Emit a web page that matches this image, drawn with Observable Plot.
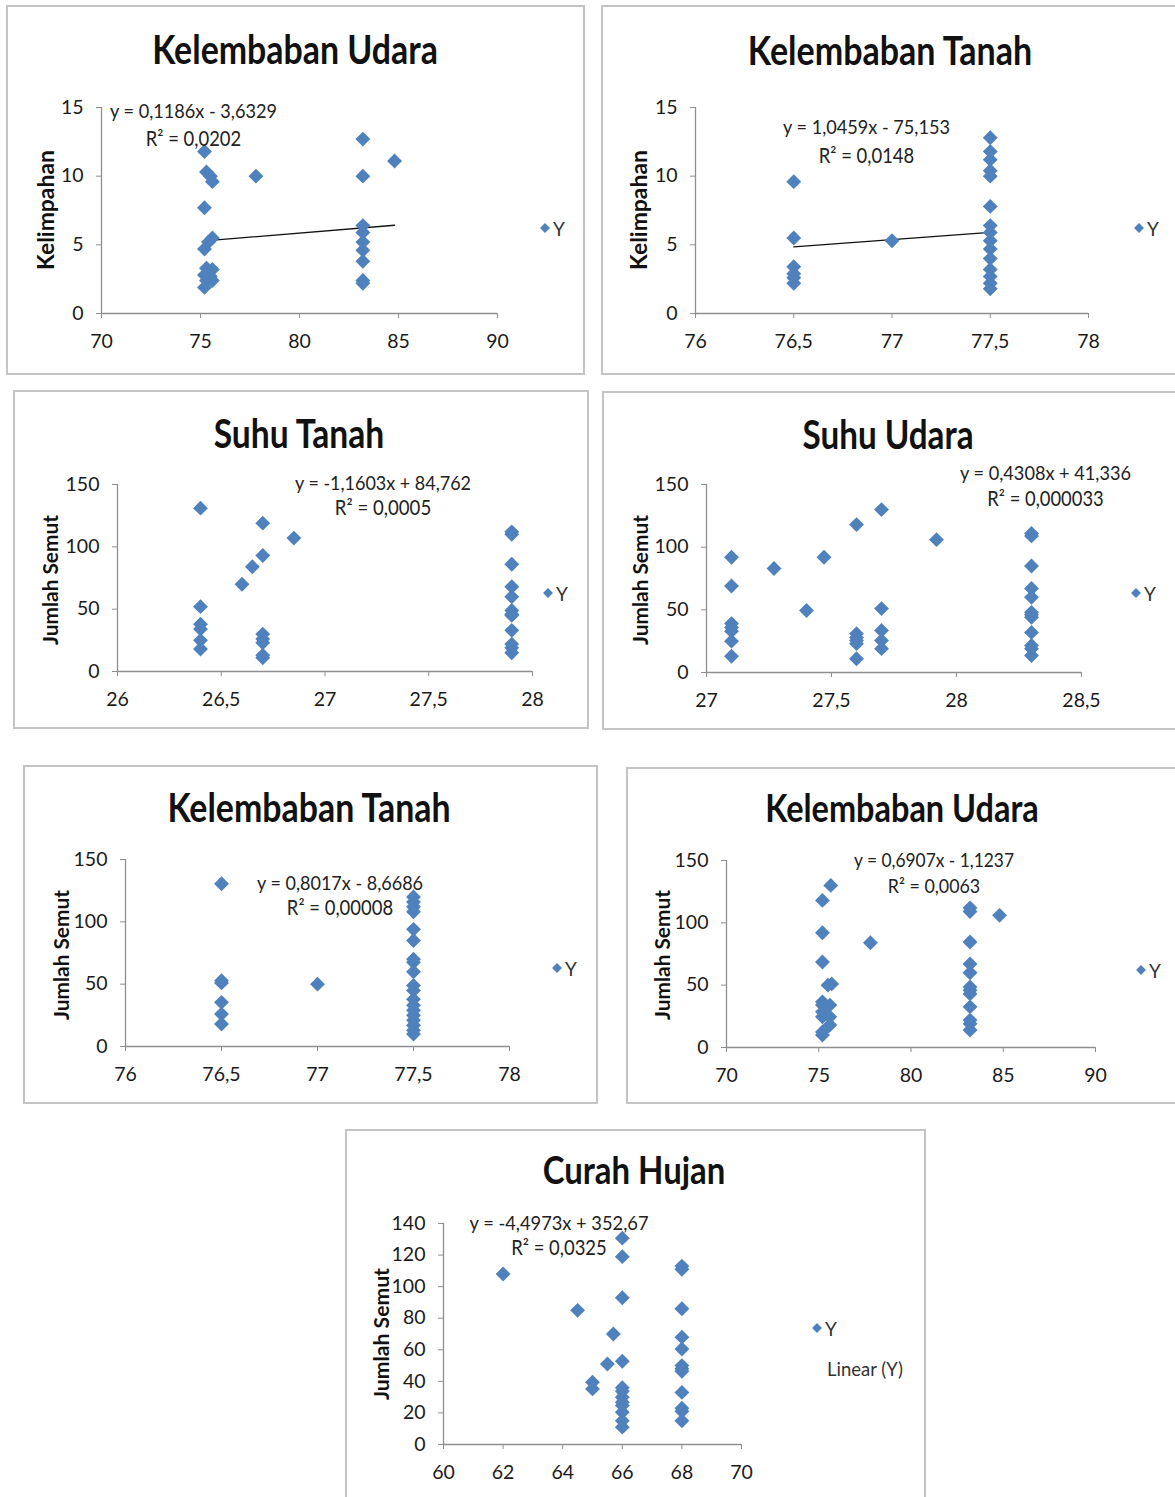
<!DOCTYPE html>
<html><head><meta charset="utf-8">
<script src="https://cdn.jsdelivr.net/npm/d3@7"></script>
<script src="https://cdn.jsdelivr.net/npm/@observablehq/plot@0.6"></script>
<style>
body{margin:0;background:#fff;}
#page{position:relative;width:1175px;height:1497px;overflow:hidden;font-family:Lato,"Open Sans",sans-serif;color:#1f1f1f;}
.box{position:absolute;border:2px solid #c4c4c4;box-sizing:border-box;}
.t{position:absolute;white-space:nowrap;line-height:1;transform:translate(-50%,-50%);}
.title{font-weight:bold;font-size:34px;color:#111;transform:translate(-50%,-50%) scaleY(1.18);}
.eq{font-size:19px;color:#222;transform:translate(-50%,-50%) scaleY(1.1);}
.yl{font-weight:bold;font-size:21px;transform:translate(-50%,-50%) rotate(-90deg);color:#111;}
.lg{font-size:19px;color:#333;}
.sw{position:absolute;width:7px;height:7px;background:#4F81BD;transform:translate(-50%,-50%) rotate(45deg);}
svg{position:absolute;}
</style></head>
<body><div id="page"></div>
<script>
// ---- data ----
const kelUdaraX1 = [75.2,75.3,75.5,75.6,75.2,75.6,75.4,75.2,75.3,75.6,75.2,75.5,75.3,75.6,75.2,77.8,83.2,83.2,83.2,83.2,83.2,83.2,83.2,83.2,83.2,84.8];
const kelimpahan1 = [11.8,10.3,10.0,9.6,7.7,5.5,5.2,4.7,3.3,3.2,2.8,2.7,2.4,2.4,1.9,10.0,12.7,10.0,6.4,5.9,5.2,4.6,3.8,2.4,2.2,11.1];

const kelTanahX2 = [76.5,76.5,76.5,76.5,76.5,76.5,77,77.5,77.5,77.5,77.5,77.5,77.5,77.5,77.5,77.5,77.5,77.5,77.5,77.5,77.5,77.5];
const kelimpahan2 = [9.6,5.5,3.4,2.9,2.6,2.2,5.3,12.8,11.8,11.2,10.4,10.0,7.8,6.4,5.9,5.3,4.7,4.0,3.2,2.7,2.2,1.8];

const suhuTanahX3 = [26.4,26.4,26.4,26.4,26.4,26.4,26.6,26.65,26.7,26.7,26.7,26.7,26.7,26.7,26.7,26.85,27.9,27.9,27.9,27.9,27.9,27.9,27.9,27.9,27.9,27.9,27.9,27.9];
const semut3 = [131,52,38,34,25,18,70,84,119,93,30,26,23,13,11,107,112,110,86,68,60,49,46,45,33,22,19,15];

const suhuUdaraX4 = [27.1,27.1,27.1,27.1,27.1,27.1,27.1,27.27,27.4,27.47,27.6,27.6,27.6,27.6,27.6,27.6,27.7,27.7,27.7,27.7,27.7,27.92,28.3,28.3,28.3,28.3,28.3,28.3,28.3,28.3,28.3,28.3,28.3,28.3];
const semut4 = [92,69,39,36,33,25,13,83,49.5,92,118,31,28,25.5,23,11,130,51,33.5,25.5,19,106,111,109,85,67,60,48,46,44,32,21.5,19,13.6];

const kelTanahX5 = [76.5,76.5,76.5,76.5,76.5,76.5,77,77.5,77.5,77.5,77.5,77.5,77.5,77.5,77.5,77.5,77.5,77.5,77.5,77.5,77.5,77.5,77.5,77.5,77.5,77.5];
const semut5 = [130.5,52.8,51,35.4,26,18,50,120,116,112,108,94,85,70,67.5,60,49,45,38,33,29,25,21,17,13,10];

const kelUdaraX6 = [75.2,75.2,75.2,75.2,75.2,75.2,75.2,75.2,75.2,75.5,75.7,75.65,75.6,75.6,75.6,77.8,83.2,83.2,83.2,83.2,83.2,83.2,83.2,83.2,83.2,83.2,83.2,83.2,84.8];
const semut6 = [118,92,68.6,36.6,34,28.6,24.6,12.5,10,50,51,130,34,24.6,18,84,112,109,84.6,67,60,48.6,46,43,32.6,22,19,14,106];

const curahX7 = [62,64.5,65,65,65.5,65.7,66,66,66,66,66,66,66,66,66,66,66,66,68,68,68,68,68,68,68,68,68,68,68,68];
const semut7 = [108,85,39.4,35.2,51,70,130.7,119,93,52.7,36,33.7,30,26.8,24.7,20.5,15,11,113,111,86,68,60.5,50,48,46.4,33,23,21,15];

const titles = ["Kelembaban Udara","Kelembaban Tanah","Suhu Tanah","Suhu Udara","Kelembaban Tanah","Kelembaban Udara","Curah Hujan"];
const yTitles = ["Kelimpahan","Kelimpahan","Jumlah Semut","Jumlah Semut","Jumlah Semut","Jumlah Semut","Jumlah Semut"];
const equations = ["y = 0,1186x - 3,6329","y = 1,0459x - 75,153","y = -1,1603x + 84,762","y = 0,4308x + 41,336","y = 0,8017x - 8,6686","y = 0,6907x - 1,1237","y = -4,4973x + 352,67"];
const rSquared = ["R² = 0,0202","R² = 0,0148","R² = 0,0005","R² = 0,000033","R² = 0,00008","R² = 0,0063","R² = 0,0325"];
const trendSlope = [0.1186, 1.0459];
const trendIntercept = [-3.6329, -75.153];

const xTicksUdara = [70,75,80,85,90];
const xTicksTanah = [76,76.5,77,77.5,78];
const xTicksSuhuTanah = [26,26.5,27,27.5,28];
const xTicksSuhuUdara = [27,27.5,28,28.5];
const xTicksCurah = [60,62,64,66,68,70];
const yTicksKelimpahan = [0,5,10,15];
const yTicksSemut = [0,50,100,150];
const yTicksCurah = [0,20,40,60,80,100,120,140];

// ---- layout (page pixels) ----
const panels = [
  {xs:kelUdaraX1, ys:kelimpahan1, xt:xTicksUdara, yt:yTicksKelimpahan, trend:0,
   box:[6,5,585,375], frame:[101,497,107,313], title:[295,50,286], yl:[45,210,120], eq:[193.5,110,139,167,95], lg:[545,228]},
  {xs:kelTanahX2, ys:kelimpahan2, xt:xTicksTanah, yt:yTicksKelimpahan, trend:1,
   box:[601,5,1180,375], frame:[695,1088,107,313], title:[890,50,284], yl:[638,210,120], eq:[866.5,126,156,167,95], lg:[1139,228]},
  {xs:suhuTanahX3, ys:semut3, xt:xTicksSuhuTanah, yt:yTicksSemut,
   box:[13,390,589,729], frame:[117,532,484,671], title:[299,434,171], yl:[50,580,130], eq:[383,482,508,176,96], lg:[548,593]},
  {xs:suhuUdaraX4, ys:semut4, xt:xTicksSuhuUdara, yt:yTicksSemut,
   box:[602,391,1180,730], frame:[706,1081,484,672], title:[888,434,171], yl:[640,580,130], eq:[1045.5,472,499,171,116], lg:[1136,593]},
  {xs:kelTanahX5, ys:semut5, xt:xTicksTanah, yt:yTicksSemut,
   box:[23,765,598,1104], frame:[125,509,859,1046], title:[309,808,283], yl:[61,955,130], eq:[340,882,908,166,106], lg:[557,968]},
  {xs:kelUdaraX6, ys:semut6, xt:xTicksUdara, yt:yTicksSemut,
   box:[626,767,1180,1104], frame:[726,1095,860,1047], title:[902,808,274], yl:[662,955,130], eq:[934,860,886,160,92], lg:[1141,970]},
  {xs:curahX7, ys:semut7, xt:xTicksCurah, yt:yTicksCurah,
   box:[345,1129,926,1502], frame:[443,741,1223,1444], title:[634,1170,183], yl:[382,1334,132], eq:[559,1222,1248,179,95], lg:[817,1328], linear:[865,1369,76]},
];

const page = document.getElementById("page");
const fmt = d => String(d).replace(".", ",");
function txt(cls, s, x, y, w) {
  const d = document.createElement("div");
  d.className = "t " + cls; d.textContent = s;
  d.style.left = x + "px"; d.style.top = y + "px";
  page.appendChild(d);
  if (w) {
    const fs = parseFloat(getComputedStyle(d).fontSize);
    const cur = d.offsetWidth;
    if (cur > 0) d.style.fontSize = (fs * w / cur).toFixed(2) + "px";
  }
  return d;
}

panels.forEach((p, i) => {
  const b = document.createElement("div");
  b.className = "box";
  b.style.left = p.box[0] + "px"; b.style.top = p.box[1] + "px";
  b.style.width = (p.box[2]-p.box[0]) + "px"; b.style.height = (p.box[3]-p.box[1]) + "px";
  page.appendChild(b);

  const [x0,x1,yT,yB] = p.frame;
  const ml = 70, mr = 30, mt = 20, mb = 45;
  const data = p.xs.map((x, k) => ({x, y: p.ys[k]}));
  const xDom = [p.xt[0], p.xt[p.xt.length-1]];
  const yDom = [p.yt[0], p.yt[p.yt.length-1]];
  const marks = [
    Plot.ruleY([yDom[0]], {stroke:"#8f8f8f", strokeWidth:1.3}),
    Plot.ruleX([xDom[0]], {stroke:"#8f8f8f", strokeWidth:1.3}),
    Plot.axisX({ticks:p.xt, tickSize:5, tickPadding:16, tickFormat:fmt, stroke:"#8f8f8f", fill:"#1a1a1a", label:null}),
    Plot.axisY({ticks:p.yt, tickSize:5, tickPadding:13, tickFormat:fmt, stroke:"#8f8f8f", fill:"#1a1a1a", label:null}),
  ];
  if (p.trend !== undefined) {
    const [lo, hi] = d3.extent(p.xs);
    const a = trendSlope[p.trend], c = trendIntercept[p.trend];
    marks.push(Plot.line([{x:lo,y:a*lo+c},{x:hi,y:a*hi+c}], {x:"x", y:"y", stroke:"#111", strokeWidth:1.3}));
  }
  marks.push(Plot.dot(data, {x:"x", y:"y", symbol:"diamond2", r:6.7, fill:"#4F81BD", stroke:"none"}));
  const svg = Plot.plot({
    width: (x1-x0)+ml+mr, height: (yB-yT)+mt+mb,
    marginLeft: ml, marginRight: mr, marginTop: mt, marginBottom: mb,
    x: {domain: xDom}, y: {domain: yDom},
    style: {fontFamily:'Lato,"Open Sans",sans-serif', fontSize:"19.5px", background:"transparent", overflow:"visible"},
    marks
  });
  svg.style.left = (x0-ml) + "px"; svg.style.top = (yT-mt) + "px";
  page.appendChild(svg);

  txt("title", titles[i], p.title[0], p.title[1], p.title[2]);
  txt("yl", yTitles[i], p.yl[0], p.yl[1], p.yl[2]);
  txt("eq", equations[i], p.eq[0], p.eq[1], p.eq[3]);
  txt("eq", rSquared[i], p.eq[0], p.eq[2], p.eq[4]);
  const sw = document.createElement("div");
  sw.className = "sw"; sw.style.left = p.lg[0] + "px"; sw.style.top = p.lg[1] + "px";
  page.appendChild(sw);
  const y = txt("lg", "Y", p.lg[0]+8, p.lg[1]); y.style.transform = "translate(0,-50%)";
  if (p.linear) txt("lg", "Linear (Y)", p.linear[0], p.linear[1], p.linear[2]);
});
</script>
</body></html>
